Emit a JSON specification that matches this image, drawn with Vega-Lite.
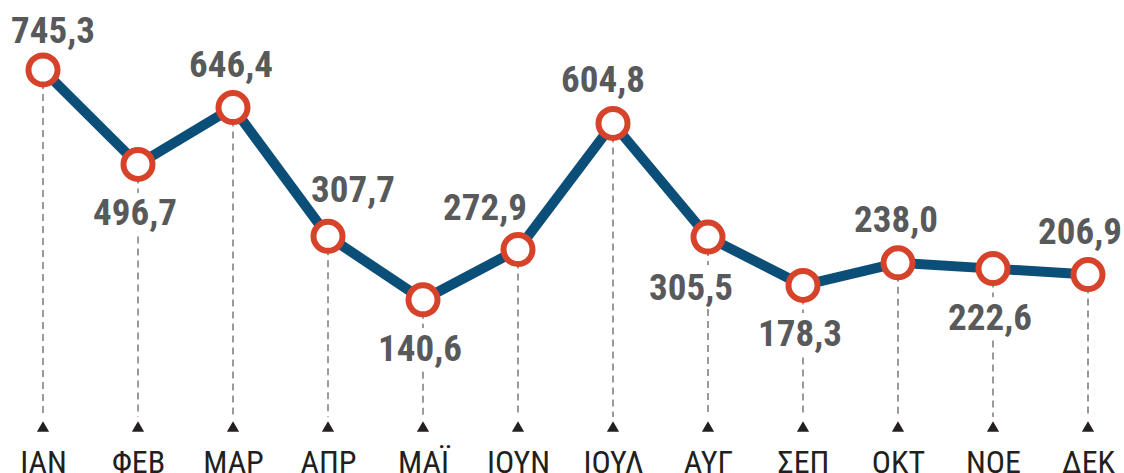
{
  "$schema": "https://vega.github.io/schema/vega-lite/v6.json",
  "width": 1124,
  "height": 430,
  "padding": {"top": 0, "left": 0, "right": 0, "bottom": 43},
  "autosize": {"type": "none"},
  "background": "white",
  "config": {
    "view": {"stroke": null},
    "locale": {"number": {"decimal": ",", "thousands": ".", "grouping": [3], "currency": ["", " €"]}}
  },
  "data": {
    "values": [
      {"month": "IAN", "value": 745.3},
      {"month": "ΦΕΒ", "value": 496.7},
      {"month": "MAP", "value": 646.4},
      {"month": "ΑΠΡ", "value": 307.7},
      {"month": "ΜΑΪ", "value": 140.6},
      {"month": "ΙΟΥΝ", "value": 272.9},
      {"month": "ΙΟΥΛ", "value": 604.8},
      {"month": "ΑΥΓ", "value": 305.5},
      {"month": "ΣΕΠ", "value": 178.3},
      {"month": "ΟΚΤ", "value": 238.0},
      {"month": "ΝΟΕ", "value": 222.6},
      {"month": "ΔΕΚ", "value": 206.9}
    ]
  },
  "encoding": {
    "x": {
      "field": "month", "type": "ordinal", "sort": null,
      "scale": {"type": "point", "range": [43, 1088], "padding": 0},
      "axis": {
        "title": null, "domain": false, "ticks": false, "tickSize": 0,
        "labelAngle": 0, "labelFont": "'Roboto Condensed', 'DejaVu Sans Condensed', 'Liberation Sans Narrow', Roboto", "labelFontSize": 32,
        "labelColor": "#231f20", "labelBaseline": "alphabetic", "labelPadding": 42,
        "labelFontWeight": "normal"
      }
    },
    "y": {
      "field": "value", "type": "quantitative",
      "scale": {"domain": [-202.1, 929.5], "nice": false, "zero": false},
      "axis": null
    }
  },
  "layer": [
    {
      "mark": {"type": "rule", "strokeDash": [7, 5], "strokeWidth": 1.5, "color": "#7a7a7a"},
      "encoding": {"y2": {"datum": -168}}
    },
    {
      "mark": {"type": "point", "shape": "triangle-up", "filled": true, "size": 150, "color": "#231f20", "opacity": 1},
      "encoding": {"y": {"datum": -193}}
    },
    {
      "transform": [{"filter": {"field": "month", "oneOf": ["ΦΕΒ", "ΜΑΪ", "ΑΥΓ", "ΣΕΠ", "ΝΟΕ"]}}],
      "mark": {"type": "text", "font": "'Roboto Condensed', 'DejaVu Sans Condensed', 'Liberation Sans Narrow', Roboto", "fontWeight": "bold", "fontSize": 37, "baseline": "alphabetic", "dy": 61, "dx": -3, "stroke": "white", "strokeWidth": 14, "color": "white"},
      "encoding": {"text": {"field": "value", "type": "quantitative", "format": ".1f"}}
    },
    {
      "mark": {"type": "line", "color": "#0b4f79", "strokeWidth": 10, "strokeJoin": "round"}
    },
    {
      "mark": {"type": "point", "shape": "circle", "filled": true, "fill": "white", "stroke": "#d7422a", "strokeWidth": 6, "size": 841, "opacity": 1}
    },
    {
      "transform": [{"filter": {"field": "month", "oneOf": ["ΦΕΒ", "ΜΑΪ", "ΣΕΠ", "ΝΟΕ"]}}],
      "mark": {"type": "text", "font": "'Roboto Condensed', 'DejaVu Sans Condensed', 'Liberation Sans Narrow', Roboto", "fontWeight": "bold", "fontSize": 37, "baseline": "alphabetic", "dy": 61, "dx": -3, "color": "#58595b"},
      "encoding": {"text": {"field": "value", "type": "quantitative", "format": ".1f"}}
    },
    {
      "transform": [{"filter": {"field": "month", "equal": "ΑΥΓ"}}],
      "mark": {"type": "text", "font": "'Roboto Condensed', 'DejaVu Sans Condensed', 'Liberation Sans Narrow', Roboto", "fontWeight": "bold", "fontSize": 37, "baseline": "alphabetic", "dy": 63, "dx": -17, "color": "#58595b"},
      "encoding": {"text": {"field": "value", "type": "quantitative", "format": ".1f"}}
    },
    {
      "transform": [{"filter": {"field": "month", "oneOf": ["MAP", "ΟΚΤ"]}}],
      "mark": {"type": "text", "font": "'Roboto Condensed', 'DejaVu Sans Condensed', 'Liberation Sans Narrow', Roboto", "fontWeight": "bold", "fontSize": 37, "baseline": "alphabetic", "dy": -31, "dx": -2, "color": "#58595b"},
      "encoding": {"text": {"field": "value", "type": "quantitative", "format": ".1f"}}
    },
    {
      "transform": [{"filter": {"field": "month", "equal": "ΔΕΚ"}}],
      "mark": {"type": "text", "font": "'Roboto Condensed', 'DejaVu Sans Condensed', 'Liberation Sans Narrow', Roboto", "fontWeight": "bold", "fontSize": 37, "baseline": "alphabetic", "dy": -31, "dx": -8, "color": "#58595b"},
      "encoding": {"text": {"field": "value", "type": "quantitative", "format": ".1f"}}
    },
    {
      "transform": [{"filter": {"field": "month", "equal": "IAN"}}],
      "mark": {"type": "text", "font": "'Roboto Condensed', 'DejaVu Sans Condensed', 'Liberation Sans Narrow', Roboto", "fontWeight": "bold", "fontSize": 37, "baseline": "alphabetic", "dy": -27, "dx": 10, "color": "#58595b"},
      "encoding": {"text": {"field": "value", "type": "quantitative", "format": ".1f"}}
    },
    {
      "transform": [{"filter": {"field": "month", "equal": "ΑΠΡ"}}],
      "mark": {"type": "text", "font": "'Roboto Condensed', 'DejaVu Sans Condensed', 'Liberation Sans Narrow', Roboto", "fontWeight": "bold", "fontSize": 37, "baseline": "alphabetic", "dy": -34, "dx": 25, "color": "#58595b"},
      "encoding": {"text": {"field": "value", "type": "quantitative", "format": ".1f"}}
    },
    {
      "transform": [{"filter": {"field": "month", "equal": "ΙΟΥΝ"}}],
      "mark": {"type": "text", "font": "'Roboto Condensed', 'DejaVu Sans Condensed', 'Liberation Sans Narrow', Roboto", "fontWeight": "bold", "fontSize": 37, "baseline": "alphabetic", "dy": -30, "dx": -33, "color": "#58595b"},
      "encoding": {"text": {"field": "value", "type": "quantitative", "format": ".1f"}}
    },
    {
      "transform": [{"filter": {"field": "month", "equal": "ΙΟΥΛ"}}],
      "mark": {"type": "text", "font": "'Roboto Condensed', 'DejaVu Sans Condensed', 'Liberation Sans Narrow', Roboto", "fontWeight": "bold", "fontSize": 37, "baseline": "alphabetic", "dy": -31, "dx": -10, "color": "#58595b"},
      "encoding": {"text": {"field": "value", "type": "quantitative", "format": ".1f"}}
    }
  ]
}
